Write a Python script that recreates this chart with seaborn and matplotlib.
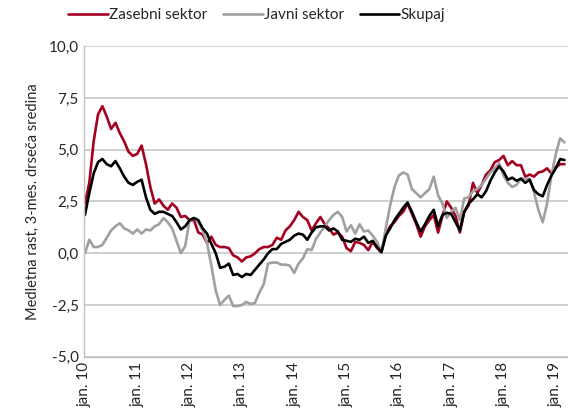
import numpy as np
import pandas as pd
import seaborn as sns
import matplotlib.pyplot as plt

sns.set_style("whitegrid")
plt.rcParams["font.family"] = ["Lato", "DejaVu Sans"]

# monthly values, jan 2010 - mar 2019
zasebni = [
    2.4, 3.4, 5.4, 6.7, 7.1, 6.6, 6.0, 6.3, 5.8, 5.4, 4.9, 4.7,
    4.8, 5.2, 4.3, 3.2, 2.4, 2.6, 2.3, 2.1, 2.4, 2.2, 1.75, 1.8,
    1.6, 1.6, 1.0, 0.9, 0.5, 0.8, 0.4, 0.3, 0.3, 0.25, -0.1, -0.2,
    -0.4, -0.2, -0.15, 0.0, 0.2, 0.3, 0.3, 0.4, 0.75, 0.65, 1.1, 1.3,
    1.6, 2.0, 1.75, 1.6, 1.1, 1.45, 1.75, 1.4, 1.2, 0.9, 1.0, 0.8,
    0.25, 0.1, 0.55, 0.5, 0.4, 0.15, 0.55, 0.25, 0.05, 0.9, 1.3, 1.5,
    1.8, 2.0, 2.4, 1.9, 1.4, 0.8, 1.3, 1.6, 1.85, 1.0, 1.8, 2.5,
    2.2, 1.8, 1.0, 2.0, 2.3, 3.4, 2.9, 3.3, 3.8, 4.0, 4.4, 4.5,
    4.7, 4.25, 4.45, 4.25, 4.25, 3.7, 3.8, 3.7, 3.9, 3.95, 4.1, 3.85,
    4.15, 4.3, 4.3,
]
javni = [
    0.0, 0.65, 0.3, 0.3, 0.4, 0.75, 1.1, 1.3, 1.45, 1.2, 1.1, 0.95,
    1.15, 0.95, 1.15, 1.1, 1.3, 1.4, 1.7, 1.5, 1.2, 0.6, 0.0, 0.35,
    1.6, 1.7, 1.5, 1.1, 0.5, -0.6, -1.8, -2.5, -2.25, -2.05, -2.55, -2.55,
    -2.5, -2.35, -2.45, -2.4, -1.9, -1.5, -0.5, -0.45, -0.45, -0.55, -0.55, -0.6,
    -0.95, -0.5, -0.25, 0.2, 0.15, 0.7, 1.0, 1.3, 1.6, 1.85, 2.0, 1.75,
    1.05, 1.35, 0.95, 1.4, 1.05, 1.1, 0.85, 0.55, 0.05, 1.2, 2.3, 3.2,
    3.75, 3.9, 3.8, 3.1, 2.9, 2.7, 2.9, 3.1, 3.7, 2.8, 2.4, 1.7,
    2.0, 2.2, 1.6, 2.65, 2.7, 3.0, 3.1, 3.3, 3.6, 3.9, 4.1, 4.35,
    3.75, 3.4, 3.2, 3.3, 3.6, 3.6, 3.6, 2.95, 2.1, 1.5, 2.4, 3.75,
    4.8, 5.55, 5.35,
]
skupaj = [
    1.85, 2.9, 3.85, 4.4, 4.55, 4.3, 4.2, 4.45, 4.1, 3.7, 3.4, 3.3,
    3.45, 3.55, 2.7, 2.1, 1.9, 2.0, 2.0, 1.9, 1.8, 1.5, 1.15, 1.3,
    1.6, 1.7, 1.6, 1.2, 0.95, 0.45, 0.0, -0.7, -0.65, -0.5, -1.05, -1.0,
    -1.15, -1.0, -1.05, -0.8, -0.55, -0.3, 0.0, 0.2, 0.2, 0.45, 0.55, 0.65,
    0.85, 0.95, 0.9, 0.65, 1.0, 1.25, 1.3, 1.3, 1.1, 1.2, 1.05, 0.65,
    0.6, 0.55, 0.7, 0.65, 0.8, 0.5, 0.6, 0.3, 0.05, 0.85, 1.2, 1.6,
    1.9, 2.2, 2.45, 2.0, 1.5, 1.05, 1.4, 1.8, 2.1, 1.3, 1.85, 1.95,
    1.9, 1.5, 1.1, 2.0, 2.4, 2.6, 2.85, 2.7, 3.0, 3.5, 3.9, 4.2,
    3.95, 3.55, 3.65, 3.5, 3.6, 3.4, 3.55, 3.05, 2.85, 2.75, 3.3, 3.75,
    4.1, 4.55, 4.5,
]
series_names = ["Zasebni sektor", "Javni sektor", "Skupaj"]
colors = ["#A50021", "#A0A0A0", "#000000"]
tick_labels = ["jan. 10", "jan. 11", "jan. 12", "jan. 13", "jan. 14",
               "jan. 15", "jan. 16", "jan. 17", "jan. 18", "jan. 19"]

month = np.arange(len(zasebni))
df = pd.DataFrame({"month": month, series_names[0]: zasebni,
                   series_names[1]: javni, series_names[2]: skupaj})
df = df.melt(id_vars="month", var_name="serija", value_name="value")

fig = plt.figure(figsize=(5.68, 4.12), dpi=100)
ax = fig.add_axes([0.148, 0.134, 0.852, 0.754])
sns.lineplot(data=df, x="month", y="value", hue="serija",
             hue_order=series_names, palette=colors, linewidth=1.9, ax=ax)

ax.set_xlim(-0.2, 110.8)
ax.set_ylim(-5, 10)
ax.set_yticks(np.arange(-5, 10.1, 2.5))
ax.set_yticklabels([f"{v:.1f}".replace(".", ",") for v in np.arange(-5, 10.1, 2.5)],
                   fontsize=11)
ax.set_xticks(np.arange(0, 12 * len(tick_labels), 12))
ax.set_xticklabels(tick_labels, rotation=90, fontsize=11)
ax.tick_params(axis="both", length=0, pad=4)
ax.set_xlabel("")
ax.set_ylabel("Medletna rast, 3-mes. drseča sredina", fontsize=10.5, labelpad=6)

ax.grid(axis="x", visible=False)
ax.grid(axis="y", color="#C8C8C8", linewidth=1.2)
for side in ["top", "right"]:
    ax.spines[side].set_visible(False)
for side in ["left", "bottom"]:
    ax.spines[side].set_color("#C0C0C0")
    ax.spines[side].set_linewidth(1.0)

ax.legend(loc="center", bbox_to_anchor=(0.357, 1.1), ncol=3, frameon=False,
          fontsize=11, handlelength=2.6, handletextpad=0.1, columnspacing=1.0)

plt.savefig("out.png", dpi=100)
